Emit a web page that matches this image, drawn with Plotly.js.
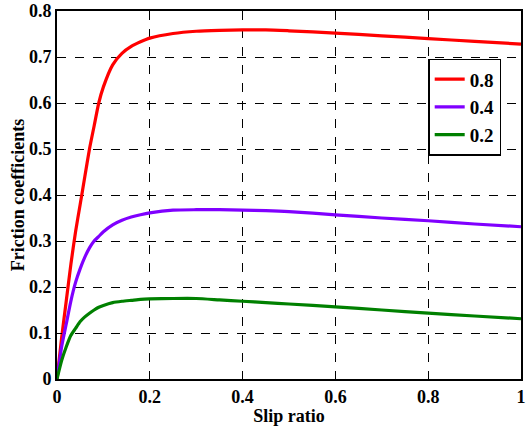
<!DOCTYPE html>
<html>
<head>
<meta charset="utf-8">
<script src="https://cdn.plot.ly/plotly-3.0.1.min.js"></script>
<style>body{margin:0;padding:0;background:#fff}#chart{width:526px;height:426px}</style>
</head>
<body>
<div id="chart"></div>
<script>
const slip = [0, 0.01, 0.02, 0.03, 0.04, 0.05, 0.06, 0.07, 0.08, 0.09, 0.10, 0.12, 0.14, 0.16, 0.18, 0.20, 0.25, 0.30, 0.35, 0.40, 0.45, 0.50, 0.60, 0.70, 0.80, 0.90, 1.0];
const mu08 = [0, 0.09, 0.17, 0.25, 0.32, 0.38, 0.44, 0.50, 0.55, 0.60, 0.635, 0.683, 0.708, 0.723, 0.733, 0.741, 0.751, 0.756, 0.758, 0.759, 0.759, 0.757, 0.752, 0.746, 0.740, 0.734, 0.728];
const mu04 = [0, 0.07, 0.12, 0.17, 0.21, 0.24, 0.265, 0.285, 0.30, 0.31, 0.32, 0.335, 0.345, 0.352, 0.357, 0.361, 0.367, 0.368, 0.368, 0.367, 0.366, 0.364, 0.357, 0.350, 0.344, 0.337, 0.331];
const mu02 = [0, 0.04, 0.07, 0.095, 0.11, 0.125, 0.135, 0.143, 0.150, 0.156, 0.160, 0.166, 0.169, 0.171, 0.173, 0.174, 0.175, 0.175, 0.172, 0.169, 0.166, 0.163, 0.157, 0.150, 0.143, 0.137, 0.131];
const seriesNames = ["0.8", "0.4", "0.2"];
const xTicks = [0, 0.2, 0.4, 0.6, 0.8, 1];
const xTickText = ["0", "0.2", "0.4", "0.6", "0.8", "1"];
const yTicks = [0, 0.1, 0.2, 0.3, 0.4, 0.5, 0.6, 0.7, 0.8];
const yTickText = ["0", "0.1", "0.2", "0.3", "0.4", "0.5", "0.6", "0.7", "0.8"];

const colors = ["#ff0000", "#8000ff", "#008000"];
const ys = [mu08, mu04, mu02];
const traces = ys.map((y, i) => ({
  x: slip, y: y, name: "<b>" + seriesNames[i] + "</b>", type: "scatter", mode: "lines",
  line: {color: colors[i], width: 3.2, shape: "spline", smoothing: 0.6}
}));

const fam = "Liberation Serif, Times New Roman, serif";
const bold = s => "<b>" + s + "</b>";
const layout = {
  width: 526, height: 426,
  margin: {l: 57, r: 5, t: 11, b: 47},
  paper_bgcolor: "#fff", plot_bgcolor: "#fff",
  font: {family: fam, color: "#000"},
  showlegend: true,
  legend: {
    x: 0.8, y: 0.87, xanchor: "left", yanchor: "top",
    bgcolor: "#fff", bordercolor: "#000", borderwidth: 1.5,
    font: {family: fam, size: 19, color: "#000"},
    itemwidth: 30
  },
  xaxis: {
    range: [0, 1], tickvals: xTicks, ticktext: xTickText.map(bold),
    showgrid: true, gridcolor: "#000", griddash: "dash", gridwidth: 1,
    zeroline: false, showline: true, linecolor: "#000", linewidth: 2, mirror: true,
    ticks: "inside", ticklen: 5, tickcolor: "#000",
    ticklabeloverflow: "allow", automargin: false,
    tickfont: {family: fam, size: 18, color: "#000"},
    title: {text: bold("Slip ratio"), font: {family: fam, size: 18, color: "#000"}, standoff: 3}
  },
  yaxis: {
    range: [0, 0.8], tickvals: yTicks, ticktext: yTickText.map(bold),
    showgrid: true, gridcolor: "#000", griddash: "dash", gridwidth: 1,
    zeroline: false, showline: true, linecolor: "#000", linewidth: 2, mirror: true,
    ticks: "inside", ticklen: 5, tickcolor: "#000",
    ticklabeloverflow: "allow", automargin: false,
    tickfont: {family: fam, size: 18, color: "#000"},
    title: {text: bold("Friction coefficients"), font: {family: fam, size: 18, color: "#000"}, standoff: 0}
  }
};
Plotly.newPlot("chart", traces, layout, {displayModeBar: false, staticPlot: true});
</script>
</body>
</html>
